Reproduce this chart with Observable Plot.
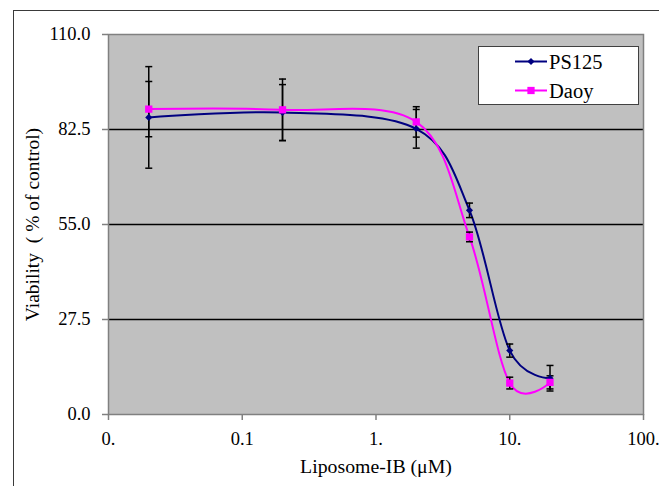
<!DOCTYPE html>
<html>
<head>
<meta charset="utf-8">
<script src="https://cdn.jsdelivr.net/npm/d3@7"></script>
<script src="https://cdn.jsdelivr.net/npm/@observablehq/plot@0.6"></script>
<style>
  html, body { margin: 0; padding: 0; background: #fff; overflow: hidden; }
  #chart { position: relative; width: 659px; height: 486px; font-family: "Liberation Serif", serif; }
  #chart svg, #chart svg text { font-family: "Liberation Serif", serif !important; }
  #outer { position: absolute; left: 13px; top: 10px; width: 800px; height: 800px;
           border-left: 1.5px solid #3a3a3a; border-top: 1.5px solid #3a3a3a; pointer-events: none; }
  #legend { position: absolute; left: 478px; top: 46px; width: 159px; height: 57px;
            background: #fff; border: 1px solid #404040; }
  #legend svg { display: block; }
</style>
</head>
<body>
<div id="chart"><div id="outer"></div></div>
<script>
// Viability (% of control) by Liposome-IB concentration (µM)
const concentrations = [0.02, 0.2, 2, 5, 10, 20];
const ps125    = [86.0, 87.4, 82.7, 59.1, 18.5, 10.5];
const ps125Err = [14.7, 8.1, 5.6, 2.1, 1.9, 3.7];
const daoy     = [88.4, 88.2, 84.7, 51.4, 9.1, 9.3];
const daoyErr  = [8.0, 8.9, 4.4, 1.4, 1.7, 1.9];

const seriesNames  = ["PS125", "Daoy"];
const seriesColors = ["#000080", "#ff00ff"];

const xTicks      = [0.01, 0.1, 1, 10, 100];
const xTickLabels = ["0.", "0.1", "1.", "10.", "100."];
const yTicks      = [0, 27.5, 55, 82.5, 110];
const gridLines   = [27.5, 55, 82.5];

const xTitle = "Liposome-IB (μM)";
const yTitle = "Viability  ( % of control)";

const rows = concentrations.flatMap((c, i) => [
  {series: "PS125", conc: c, value: ps125[i], err: ps125Err[i]},
  {series: "Daoy",  conc: c, value: daoy[i],  err: daoyErr[i]}
]);
const psRows = rows.filter(d => d.series === "PS125");
const daRows = rows.filter(d => d.series === "Daoy");

// short horizontal stroke used as the error-bar cap
const cap = {draw(ctx) { ctx.moveTo(-3.5, 0); ctx.lineTo(3.5, 0); }};

const chart = Plot.plot({
  width: 659,
  height: 486,
  marginLeft: 108,
  marginRight: 16,
  marginTop: 34,
  marginBottom: 72,
  style: {fontFamily: "Liberation Serif, serif", fontSize: "18.5px", background: "transparent", color: "#000"},
  x: {type: "log", domain: [0.01, 100]},
  y: {domain: [0, 110]},
  color: {domain: seriesNames, range: seriesColors},
  marks: [
    Plot.frame({fill: "#c0c0c0", stroke: null}),
    Plot.ruleY(gridLines, {stroke: "#000", strokeWidth: 1.3}),
    Plot.frame({stroke: "#808080", strokeWidth: 1.5}),
    Plot.axisX({ticks: xTicks, tickFormat: d => xTickLabels[xTicks.indexOf(d)], tickSize: 6, tickPadding: 11,
                stroke: "#808080", strokeWidth: 1.5, label: null}),
    Plot.axisY({ticks: yTicks, tickFormat: d => d.toFixed(1), tickSize: 6, tickPadding: 12,
                stroke: "#808080", strokeWidth: 1.5, label: null}),
    Plot.line(rows, {x: "conc", y: "value", z: "series", stroke: "series", strokeWidth: 2, curve: "cardinal"}),
    Plot.ruleX(rows, {x: "conc", y1: d => d.value - d.err, y2: d => d.value + d.err, stroke: "#000", strokeWidth: 1.5}),
    Plot.dot(rows, {x: "conc", y: d => d.value + d.err, symbol: cap, r: 3, fill: "none", stroke: "#000", strokeWidth: 1.5}),
    Plot.dot(rows, {x: "conc", y: d => d.value - d.err, symbol: cap, r: 3, fill: "none", stroke: "#000", strokeWidth: 1.5}),
    Plot.dot(psRows, {x: "conc", y: "value", symbol: "diamond2", r: 3.2, fill: seriesColors[0], stroke: null}),
    Plot.dot(daRows, {x: "conc", y: "value", symbol: "square", r: 4.1, fill: seriesColors[1], stroke: null}),
    Plot.text([xTitle], {frameAnchor: "bottom", dy: 52, text: d => d, fontSize: 19.8, fill: "#000", lineAnchor: "middle"}),
    Plot.text([yTitle], {frameAnchor: "left", dx: -76, rotate: -90, text: d => d, fontSize: 19.5, fill: "#000",
                         textAnchor: "middle", lineAnchor: "middle"})
  ]
});
document.getElementById("chart").prepend(chart);

// legend box in the upper right of the plot area
const legend = document.createElement("div");
legend.id = "legend";
const lsvg = d3.select(legend).append("svg").attr("width", 159).attr("height", 57);
const symbolPaths = [
  d3.symbol(d3.symbolDiamond2, Math.PI * 3.2 * 3.2)(),
  d3.symbol(d3.symbolSquare, Math.PI * 4.1 * 4.1)()
];
seriesNames.forEach((name, i) => {
  const cy = 14.5 + i * 29;
  const g = lsvg.append("g").attr("transform", `translate(0,${cy})`);
  g.append("line").attr("x1", 36).attr("x2", 68).attr("stroke", seriesColors[i]).attr("stroke-width", 2);
  g.append("path").attr("d", symbolPaths[i]).attr("transform", "translate(52,0)").attr("fill", seriesColors[i]);
  g.append("text").attr("x", 70).attr("dy", "0.35em").attr("font-size", 20.5).text(name);
});
document.getElementById("chart").appendChild(legend);
</script>
</body>
</html>
